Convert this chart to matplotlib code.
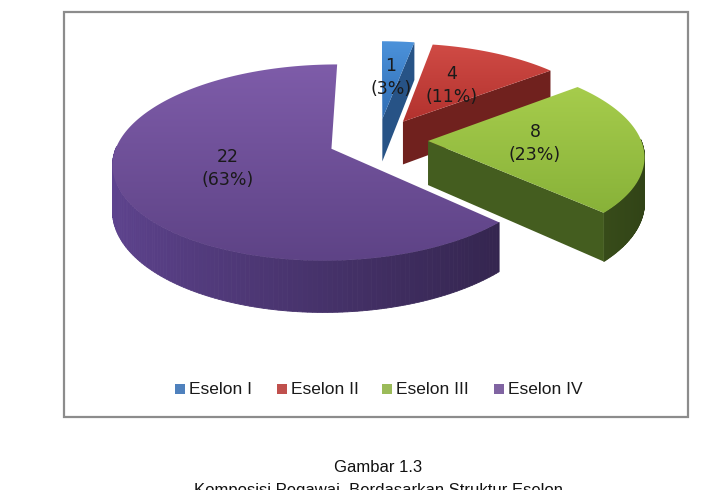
import numpy as np
import matplotlib.pyplot as plt
from matplotlib.patches import Polygon, Rectangle
from matplotlib.colors import to_rgb

# data
labels = ["Eselon I", "Eselon II", "Eselon III", "Eselon IV"]
values = [1, 4, 8, 22]
top_light = ["#4c92da", "#d04b45", "#a6cc4c", "#7e5ca9"]
top_dark = ["#2f6db4", "#b2322e", "#88b239", "#5e4386"]
side_col = ["#2a5a92", "#7a2421", "#4a6522", "#46326a"]
legend_col = ["#4f81bd", "#c0504d", "#9bbb59", "#8064a2"]

# pie geometry (pixel units, y down)
cx, cy = 378, 140
rx = 213
k = 0.44          # vertical squash of the tilted pie
persp = 0.00065   # back of the pie looks smaller
depth = 44
explode = 50

fig = plt.figure(figsize=(7.01, 4.90), dpi=100)
ax = fig.add_axes([0, 0, 1, 1])
ax.axis("off")

# chart frame
ax.add_patch(Rectangle((64, 12), 624, 405, fill=False, ec="#8c8c8c", lw=1.6, zorder=0))


def proj(u, v, dz=0.0):
    s = 1.0 / (1.0 + persp * v)
    return (cx + u * s, cy - k * v * s + dz * s)


def pt(t, ox, oy, r=1.0, dz=0.0):
    return proj(ox + r * rx * np.cos(t), oy + r * rx * np.sin(t), dz)


def shade(c, f):
    return tuple(min(1, max(0, v * f)) for v in to_rgb(c))


total = sum(values)
fracs = np.array(values) / total
starts = np.cumsum(np.r_[0, fracs[:-1]])
slices = []
for i, v in enumerate(values):
    a0 = np.deg2rad(90 - 360 * starts[i])
    a1 = np.deg2rad(90 - 360 * (starts[i] + fracs[i]))
    mid = (a0 + a1) / 2
    slices.append((i, a0, a1, mid, explode * np.cos(mid), explode * np.sin(mid)))

# back to front
for i, a0, a1, mid, ox, oy in sorted(slices, key=lambda s: -s[5]):
    ts = np.linspace(a0, a1, 200)
    # outer side (front half only), lighter on the left
    for j in range(len(ts) - 1):
        t0, t1 = ts[j], ts[j + 1]
        if np.sin((t0 + t1) / 2) >= 0.02:
            continue
        f = 1.0 - 0.35 * np.cos((t0 + t1) / 2)
        quad = [pt(t0, ox, oy), pt(t1, ox, oy), pt(t1, ox, oy, dz=depth), pt(t0, ox, oy, dz=depth)]
        ax.add_patch(Polygon(quad, closed=True, fc=shade(side_col[i], f), ec=shade(side_col[i], f), lw=0.6, zorder=2))
    # radial cut faces facing the viewer
    c_top = proj(ox, oy)
    c_bot = proj(ox, oy, depth)
    for t, vis in ((a0, np.cos(a0) < -1e-6), (a1, np.cos(a1) > 1e-6)):
        if vis:
            face = [c_top, pt(t, ox, oy), pt(t, ox, oy, dz=depth), c_bot]
            ax.add_patch(Polygon(face, closed=True, fc=shade(side_col[i], 0.92), ec="none", zorder=2))
    # top face with vertical gradient
    poly = [c_top] + [pt(t, ox, oy) for t in ts]
    arr = np.array(poly)
    top = Polygon(poly, closed=True, fc="none", ec="none", zorder=3)
    ax.add_patch(top)
    g = np.linspace(0, 1, 100)[:, None, None]
    c1 = np.array(to_rgb(top_light[i]))
    c2 = np.array(to_rgb(top_dark[i]))
    img = c1 * (1 - g) + c2 * g
    ymin, ymax = arr[:, 1].min(), arr[:, 1].max()
    xmin, xmax = arr[:, 0].min(), arr[:, 0].max()
    im = ax.imshow(img, extent=(xmin, xmax, ymax, ymin), origin="upper", aspect="auto", zorder=3)
    im.set_clip_path(top)
    # data label
    lx, ly = pt(mid, ox, oy, r=0.5)
    ax.text(lx, ly, f"{values[i]}\n({values[i] / total:.0%})", ha="center", va="center",
            fontsize=12.5, color="#1a1a1a", linespacing=1.35, zorder=5)

# legend
leg_x = [175, 277, 382, 494]
for i, lab in enumerate(labels):
    ax.add_patch(Rectangle((leg_x[i], 384), 10, 10, fc=legend_col[i], ec="none", zorder=5))
    ax.text(leg_x[i] + 14, 389, lab, ha="left", va="center", fontsize=12.5,
            family="Liberation Sans", color="#1a1a1a", zorder=5)

# caption
ax.text(378, 467, "Gambar 1.3", ha="center", va="center", fontsize=12,
        family=["Liberation Sans Narrow", "Liberation Sans"], color="#111111")
ax.text(378, 483, "Komposisi Pegawai  Berdasarkan Struktur Eselon", ha="center", va="top",
        fontsize=12, family=["Liberation Sans Narrow", "Liberation Sans"], color="#111111")

ax.set_xlim(0, 701)
ax.set_ylim(490, 0)
fig.savefig("out.png", dpi=100)
